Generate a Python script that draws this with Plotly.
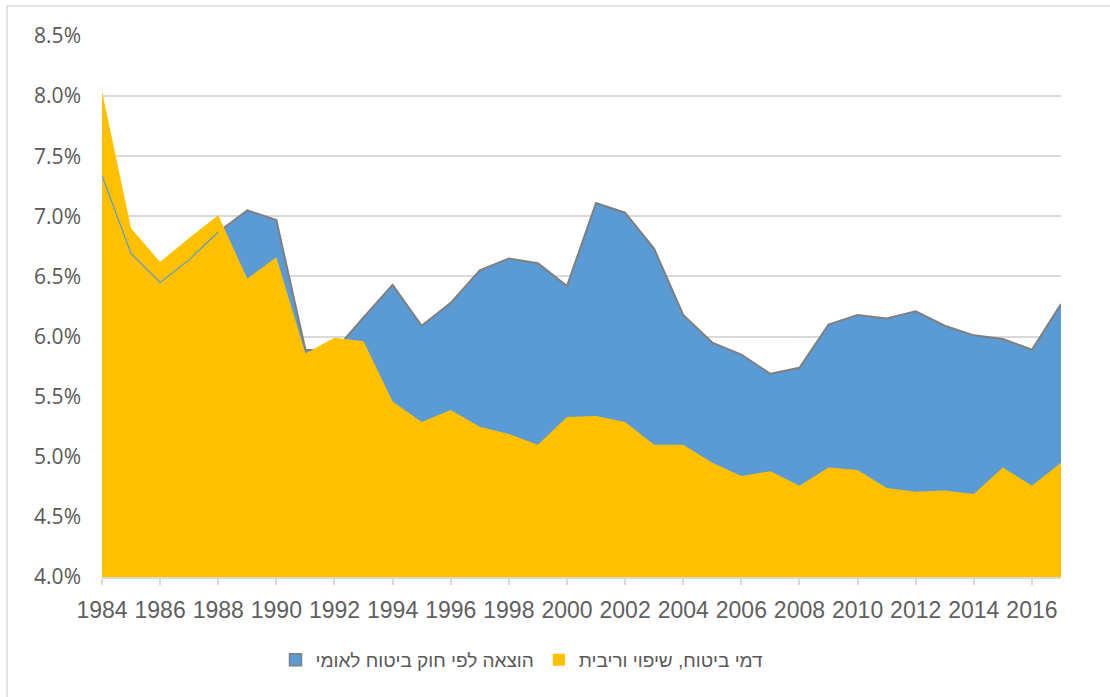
import plotly.graph_objects as go

years = list(range(1984, 2018))
blue_name = "הוצאה לפי חוק ביטוח לאומי"
yellow_name = "דמי ביטוח, שיפוי וריבית"

blue_vals = [7.34, 6.69, 6.45, 6.64, 6.87, 7.05, 6.97,
             5.89, 5.88, 6.16, 6.43, 6.09, 6.28, 6.55, 6.65, 6.61, 6.42,
             7.11, 7.03, 6.73, 6.18, 5.95, 5.85, 5.69, 5.74, 6.10, 6.18,
             6.15, 6.21, 6.09, 6.01, 5.98, 5.89, 6.27]
yellow_vals = [8.04, 6.90, 6.62, 6.82, 7.01, 6.48, 6.66,
               5.86, 5.99, 5.96, 5.46, 5.29, 5.39, 5.25, 5.19, 5.10, 5.33,
               5.34, 5.29, 5.10, 5.10, 4.95, 4.84, 4.88, 4.76, 4.91, 4.89,
               4.74, 4.71, 4.72, 4.69, 4.91, 4.76, 4.95]

BLUE = "#5b9bd5"
YELLOW = "#ffc000"
GRAY = "#7f7f7f"
GRID = "#d9d9d9"
TXT = "#595959"

fig = go.Figure()

# blue area (behind), gray outline
fig.add_trace(go.Scatter(x=years, y=blue_vals, mode="lines", fill="tozeroy",
                         fillcolor=BLUE, line=dict(color=GRAY, width=2),
                         showlegend=False, hoverinfo="skip"))
# yellow area (front)
fig.add_trace(go.Scatter(x=years, y=yellow_vals, mode="lines", fill="tozeroy",
                         fillcolor=YELLOW, line=dict(color=YELLOW, width=0),
                         showlegend=False, hoverinfo="skip"))
# thin blue outline visible over yellow in early years
fig.add_trace(go.Scatter(x=years[:5], y=blue_vals[:5], mode="lines",
                         line=dict(color=BLUE, width=1.2),
                         showlegend=False, hoverinfo="skip"))

# legend entries
fig.add_trace(go.Scatter(x=[None], y=[None], mode="markers", name=blue_name,
                         marker=dict(symbol="square", size=12, color=BLUE,
                                     line=dict(color=GRAY, width=1.5))))
fig.add_trace(go.Scatter(x=[None], y=[None], mode="markers", name=yellow_name,
                         marker=dict(symbol="square", size=12, color=YELLOW,
                                     line=dict(width=0))))

L, R, T, B = 102, 49, 36, 120
W, H = 1110, 697
pw = W - L - R
ph = H - T - B

def px_x(x):
    return (x - L) / pw

def px_y(y):
    return (H - B - y) / ph

fig.update_layout(
    width=W, height=H,
    margin=dict(l=L, r=R, t=T, b=B),
    paper_bgcolor="white", plot_bgcolor="white",
    font=dict(family="Liberation Sans, Arial, DejaVu Sans", color=TXT),
    xaxis=dict(range=[1984, 2017], tick0=1984, dtick=2, showgrid=False,
               zeroline=False, showline=True, linecolor=GRID, linewidth=1.5,
               ticks="outside", ticklen=6, tickcolor=GRID, tickwidth=1.5,
               tickfont=dict(family="Liberation Sans, Arial", size=23, color="#606060"),
               ticklabelstandoff=6),
    yaxis=dict(range=[4.0, 8.5], dtick=0.5, tick0=4.0, tickformat=".1f",
               ticksuffix="%", showgrid=True, gridcolor=GRID, gridwidth=1.5,
               zeroline=False, showline=False,
               tickfont=dict(family="Open Sans, Noto Sans", size=21, color=TXT),
               ticklabelstandoff=20),
    legend=dict(orientation="h", x=px_x(522), xanchor="center",
                y=px_y(660), yanchor="middle",
                font=dict(family="Liberation Sans, Arial, DejaVu Sans", size=19, color=TXT),
                itemwidth=30, traceorder="normal"),
    shapes=[dict(type="rect", xref="paper", yref="paper",
                 x0=px_x(7), x1=px_x(1125), y0=px_y(710), y1=px_y(6),
                 line=dict(color=GRID, width=1.5), fillcolor="rgba(0,0,0,0)",
                 layer="below")],
)

fig.write_html("out.html")
